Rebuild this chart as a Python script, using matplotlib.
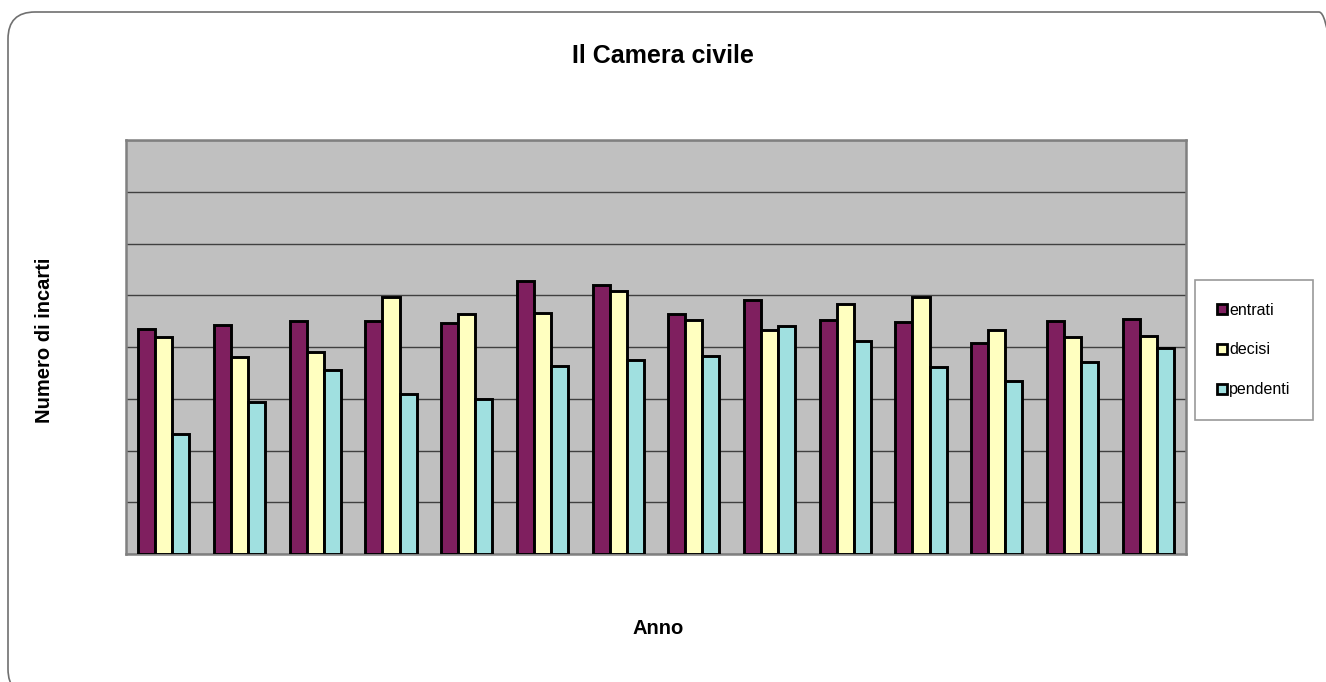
import numpy as np
import matplotlib.pyplot as plt
from matplotlib.patches import Patch, FancyBboxPatch

# Camera civile: cases per year (one gridline step per unit)
anni = list(range(14))
entrati = [4.34, 4.43, 4.51, 4.51, 4.47, 5.28, 5.19, 4.63, 4.90, 4.52, 4.48, 4.07, 4.51, 4.54]
decisi = [4.19, 3.80, 3.91, 4.97, 4.63, 4.65, 5.08, 4.52, 4.32, 4.83, 4.96, 4.32, 4.20, 4.22]
pendenti = [2.32, 2.94, 3.55, 3.09, 2.99, 3.64, 3.75, 3.83, 4.40, 4.11, 3.62, 3.35, 3.71, 3.98]

serie = ["entrati", "decisi", "pendenti"]
colori = ["#7F1F5F", "#FFFFC0", "#A0E0E0"]

plt.rcParams['font.family'] = ['Liberation Sans', 'DejaVu Sans']

W, H = 1326, 682
fig = plt.figure(figsize=(W / 100, H / 100), dpi=100)

# background axes in pixel units (origin bottom-left), holds the rounded frame
bg = fig.add_axes([0, 0, 1, 1], zorder=-1)
bg.set_xlim(0, W)
bg.set_ylim(0, H)
bg.axis("off")
bg.add_patch(FancyBboxPatch((8, -14), 1338, H - 12 + 14,
                            boxstyle="round,pad=0,rounding_size=27",
                            facecolor="none", edgecolor="#707070", linewidth=1.2,
                            clip_on=False))

ax = fig.add_axes([126 / W, (H - 554) / H, (1186 - 126) / W, (554 - 140) / H])
ax.set_facecolor("#C0C0C0")

x = np.arange(len(anni))
bw = 0.225
for i, (vals, col) in enumerate(zip([entrati, decisi, pendenti], colori)):
    ax.bar(x + (i - 1) * bw, vals, width=bw, color=col, edgecolor="black",
           linewidth=2.1, zorder=3)

ax.set_xlim(-0.5, len(anni) - 0.5)
ax.set_ylim(0, 8)
ax.set_yticks(range(9))
ax.grid(axis="y", color="#404040", linewidth=1, zorder=1)
ax.tick_params(length=0, labelleft=False, labelbottom=False)
ax.set_xticks([])
for s in ax.spines.values():
    s.set_color("#808080")
    s.set_linewidth(1.8)

fig.text(663 / W, 1 - 56 / H, "Il Camera civile", ha="center", va="center",
         fontsize=18, fontweight="bold")
fig.text(658 / W, 1 - 629 / H, "Anno", ha="center", va="center",
         fontsize=14.5, fontweight="bold")
fig.text(45 / W, 1 - 340 / H, "Numero di incarti", ha="center", va="center",
         rotation=90, fontsize=14.5, fontweight="bold")

handles = [Patch(facecolor=c, edgecolor="black", linewidth=2) for c in colori]
leg = fig.legend(handles, serie, loc="center", bbox_to_anchor=(1254 / W, 1 - 350 / H),
                 fontsize=11.5, frameon=True, fancybox=False, borderpad=1.4,
                 handlelength=0.6, handleheight=0.6, handletextpad=0.15,
                 labelspacing=1.55)
leg.get_frame().set_edgecolor("#808080")
leg.get_frame().set_linewidth(1.2)

fig.savefig("out.png", dpi=100)
